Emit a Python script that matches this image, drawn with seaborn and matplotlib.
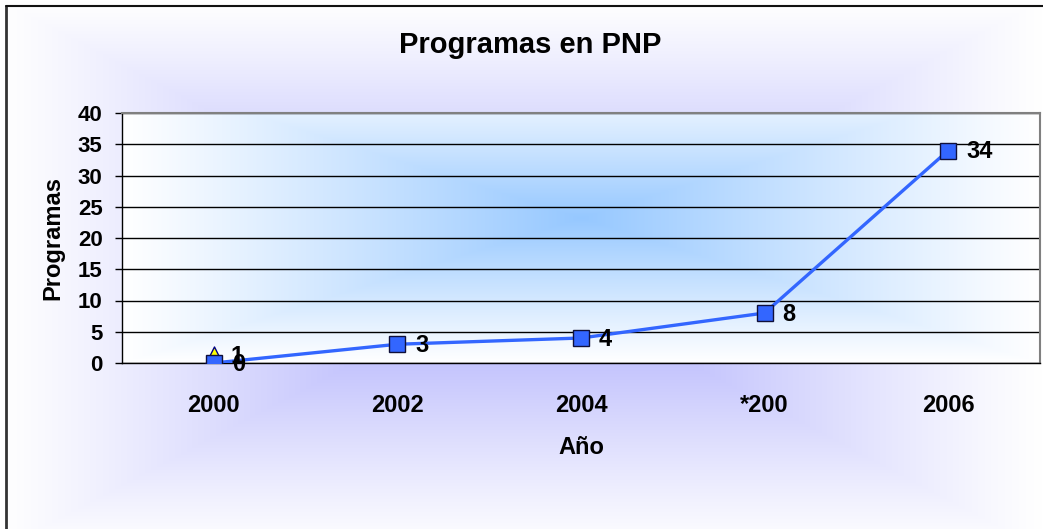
import numpy as np
import matplotlib.pyplot as plt
import seaborn as sns

# data
years = ["2000", "2002", "2004", "*200", "2006"]
programas = [0, 3, 4, 8, 34]
extra_years = ["2000"]
extra_vals = [1]
yticks = [0, 5, 10, 15, 20, 25, 30, 35, 40]

sns.set_style("white")
plt.rcParams['font.family'] = ['Liberation Sans', 'DejaVu Sans']
plt.rcParams['font.weight'] = 'bold'
plt.rcParams['text.color'] = 'black'
plt.rcParams['axes.labelcolor'] = 'black'
plt.rcParams['xtick.color'] = 'black'
plt.rcParams['ytick.color'] = 'black'

W, H = 1043, 529
fig = plt.figure(figsize=(W / 100, H / 100), dpi=100)
fig.patch.set_facecolor('white')


def rect_gradient(h, w, center, edge, power, cx=0.5, cy=0.5):
    yy, xx = np.mgrid[0:h, 0:w]
    dx = np.abs(xx / (w - 1) - cx) / max(cx, 1 - cx)
    dy = np.abs(yy / (h - 1) - cy) / max(cy, 1 - cy)
    t = np.clip(np.maximum(dx, dy), 0, 1)
    k = (1 - t) ** power
    c = np.array(center) / 255.0
    e = np.array(edge) / 255.0
    return e + (c - e) * k[..., None]


# chart area background: lavender centre fading to white
bg = fig.add_axes([0, 0, 1, 1], zorder=-10)
bg.imshow(rect_gradient(H, W, (165, 165, 252), (255, 255, 255), 1.1, cy=0.52),
          aspect='auto', extent=[0, 1, 0, 1], interpolation='bilinear')
bg.set_axis_off()

# plot area
left, right, top, bottom = 122, 1040, 113, 363
ax = fig.add_axes([left / W, 1 - bottom / H, (right - left) / W, (bottom - top) / H])
ax.patch.set_alpha(0)

sns.scatterplot(x=extra_years, y=extra_vals, ax=ax, marker='^', s=230,
                color='#ffff00', edgecolor='#000080', linewidth=1, zorder=3)
sns.lineplot(x=years, y=programas, ax=ax, sort=False, color='#3366ff', lw=2.4,
             marker='s', markersize=11, markerfacecolor='#3366ff',
             markeredgecolor='#10103a', markeredgewidth=1, zorder=4)

ax.set_xlim(-0.5, len(years) - 0.5)
ax.set_ylim(0, 40)
ax.imshow(rect_gradient(300, 600, (150, 200, 255), (255, 255, 255), 1.05, cy=0.42),
          aspect='auto', extent=[-0.5, len(years) - 0.5, 0, 40],
          interpolation='bilinear', zorder=0)

for i, v in enumerate(programas):
    ax.annotate(str(v), (i, v), xytext=(13, -1), textcoords='offset points',
                ha='left', va='center', fontsize=17, fontweight='bold', zorder=5)
for i, v in enumerate(extra_vals):
    ax.annotate(str(v), (i, v), xytext=(12, 0), textcoords='offset points',
                ha='left', va='center', fontsize=17, fontweight='bold', zorder=5)

ax.set_yticks(yticks)
ax.yaxis.grid(True, color='black', lw=1, zorder=1)
ax.set_xticks(range(len(years)))
ax.set_xticks(np.arange(-0.5, len(years), 1), minor=True)
ax.tick_params(axis='x', which='major', length=0, pad=22, labelsize=17)
ax.tick_params(axis='x', which='minor', length=5, width=1, color='black', direction='out')
ax.tick_params(axis='y', length=5, width=1, color='black', direction='out', pad=9,
               labelsize=16, left=True)

for s in ['left', 'bottom']:
    ax.spines[s].set_color('black')
    ax.spines[s].set_linewidth(1)
for s in ['top', 'right']:
    ax.spines[s].set_color('#808080')
    ax.spines[s].set_linewidth(1.5)

ax.set_xlabel('Año', fontsize=17, fontweight='bold', labelpad=14)
ax.set_ylabel('Programas', fontsize=17, fontweight='bold', labelpad=10)

fig.text(530 / W, 1 - 45 / H, 'Programas en PNP', ha='center', va='center',
         fontsize=21, fontweight='bold')

# chart area border (left and top visible)
fig.add_artist(plt.Line2D([6 / W, 6 / W], [0, 1 - 6 / H], transform=fig.transFigure,
                          color='#333333', lw=2))
fig.add_artist(plt.Line2D([6 / W, 1], [1 - 6 / H, 1 - 6 / H], transform=fig.transFigure,
                          color='#111111', lw=1.5))

fig.savefig('out.png', dpi=100)
